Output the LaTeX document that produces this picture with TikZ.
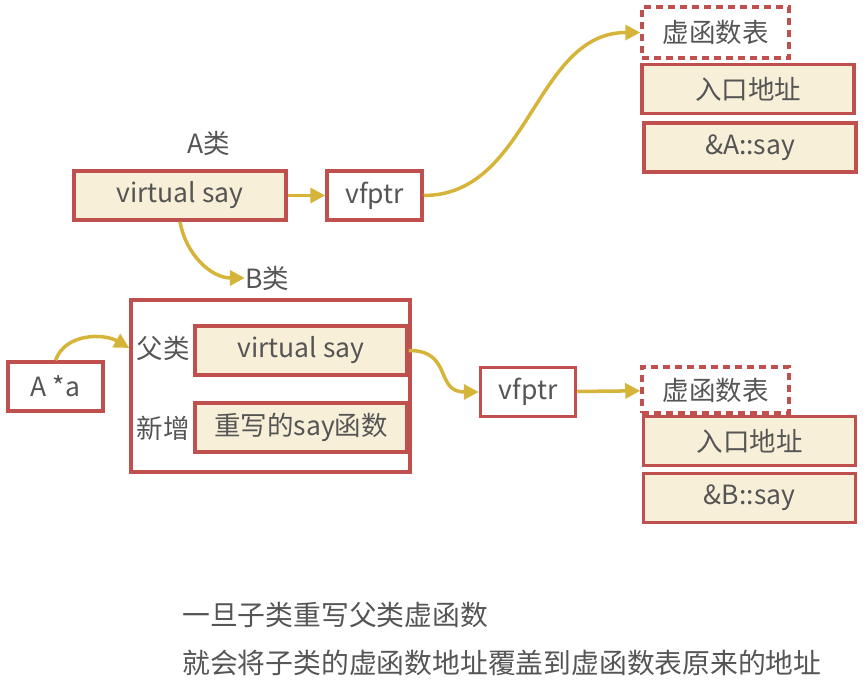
\documentclass[tikz,border=0pt]{standalone}
\usepackage{fontspec}
\setmainfont{Noto Sans CJK SC}
\usetikzlibrary{arrows.meta}
\definecolor{boxred}{HTML}{C0504D}
\definecolor{cellfill}{HTML}{F7EFD8}
\definecolor{linkgold}{HTML}{D6B43A}
\definecolor{txtgray}{HTML}{555555}
\begin{document}
\begin{tikzpicture}[x=1pt,y=1pt,
    every node/.style={text=txtgray,font=\fontsize{26.5}{30}\selectfont,inner sep=0pt},
    cellbox/.style={draw=boxred,line width=3.5pt,fill=cellfill,minimum width=212pt,minimum height=49pt},
    ptrbox/.style={draw=boxred,line width=3.5pt,fill=white,minimum width=95pt,minimum height=49pt},
    tabbox/.style={draw=boxred,line width=3.5pt,dash pattern=on 7pt off 5pt,minimum width=147pt,minimum height=51pt},
    notetext/.style={anchor=west,font=\fontsize{27.8}{32}\selectfont},
    link/.style={draw=linkgold,line width=3.5pt,-{Triangle[length=15pt,width=15pt]}}]
    \useasboundingbox (0,0) rectangle (868,700);
    % Class A
    \node (alabel) at (209,557) {A类};
    \node[cellbox] (avs) at (180,504.5) {virtual say};
    \node[ptrbox] (avf) at (374.5,504.5) {vfptr};
    % Table of A
    \node[tabbox] (atab) at (715.5,667.5) {虚函数表};
    \node[cellbox] (aentry) at (748,611) {入口地址};
    \node[cellbox] (aaddr) at (750,552.5) {\&A::say};
    % Class B
    \node (blabel) at (267,422) {B类};
    \node[draw=boxred,line width=3.5pt,minimum width=279pt,minimum height=172pt] (bbox) at (270.5,314) {};
    \node (flabel) at (163,352) {父类};
    \node (nlabel) at (163,272) {新增};
    \node[cellbox] (bvs) at (301,349.5) {virtual say};
    \node[cellbox] (bnew) at (301,272.5) {重写的say函数};
    \node[ptrbox] (pa) at (55.5,313.5) {A *a};
    \node[ptrbox] (bvf) at (528,308) {vfptr};
    % Table of B
    \node[tabbox,minimum height=46pt] (btab) at (715.5,310) {虚函数表};
    \node[cellbox] (bentry) at (749.5,259) {入口地址};
    \node[cellbox] (baddr) at (749.5,202) {\&B::say};
    % Links
    \draw[link] (avs) -- (avf);
    \draw[link] (avf.east) to[out=0,in=180] (atab.west);
    \draw[link] (avs.south) to[out=-80,in=180] (blabel.west);
    \draw[link] (pa.north) to[out=70,in=150] (bbox.west |- flabel);
    \draw[link] (bvs.east) to[out=0,in=180,looseness=1.4] (bvf.west);
    \draw[link] (bvf) -- (btab);
    % Note
    \node[notetext] (note1) at (182,85) {一旦子类重写父类虚函数};
    \node[notetext] (note2) at (182,37) {就会将子类的虚函数地址覆盖到虚函数表原来的地址};
\end{tikzpicture}
\end{document}
